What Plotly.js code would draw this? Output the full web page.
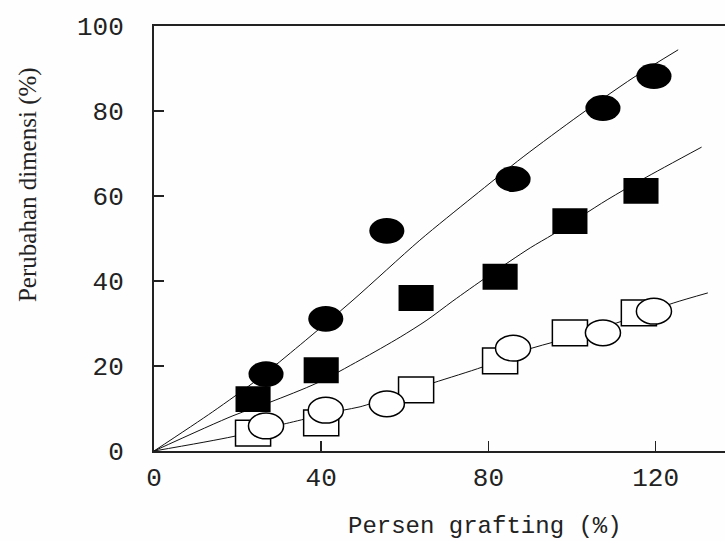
<!DOCTYPE html>
<html>
<head>
<meta charset="utf-8">
<script src="https://cdn.plot.ly/plotly-3.0.1.min.js"></script>
<style>html,body{margin:0;padding:0;background:#fff;}#chart{width:725px;height:541px;}</style>
</head>
<body>
<div id="chart"></div>
<script>
// Data
var filledCircleX = [26.8, 41.1, 55.7, 85.9, 107.4, 119.6];
var filledCircleY = [18.1, 31.1, 51.8, 64.0, 80.7, 88.2];
var filledSquareX = [23.7, 40.0, 62.7, 82.8, 99.5, 116.5];
var filledSquareY = [12.2, 19.0, 36.0, 41.0, 54.1, 61.2];
var openSquareX = [23.7, 40.0, 62.7, 82.8, 99.5, 116.0];
var openSquareY = [4.2, 6.6, 14.4, 21.2, 27.8, 32.5];
var openCircleX = [26.8, 41.1, 55.7, 85.9, 107.4, 119.6];
var openCircleY = [5.9, 9.6, 11.1, 24.2, 27.8, 32.9];

var fit1X = [0, 14, 25, 35, 47.6, 63.6, 76.3, 88.3, 101.9, 114.6, 125.4];
var fit1Y = [0, 9.2, 17, 25, 35.5, 49.6, 59.8, 69.2, 79.1, 87.8, 94.4];
var fit2X = [0, 18.9, 27.8, 39, 49.3, 58.9, 65.3, 71.5, 79.7, 90, 95.5, 108.4, 117, 131];
var fit2Y = [0, 8.3, 11.5, 16, 21.4, 26.8, 30.8, 35.3, 41, 47.8, 51, 59.1, 64, 71.5];
var fit3X = [0, 18.9, 30.9, 45.2, 49.3, 66.7, 78.7, 90.4, 95.5, 111.5, 124.2, 132.5];
var fit3Y = [0, 3.4, 6.3, 9.6, 10.4, 16, 19.8, 24.2, 25.6, 30.4, 34.8, 37.2];

var xTicks = [0, 40, 80, 120];
var yTicks = [0, 20, 40, 60, 80, 100];
var xTitle = 'Persen grafting (%)';
var yTitle = 'Perubahan dimensi (%)';

var lineStyle = {color: '#111', width: 1, shape: 'spline', smoothing: 0.8};
function fit(x, y) {
  return {x: x, y: y, type: 'scatter', mode: 'lines', line: lineStyle, hoverinfo: 'skip', showlegend: false};
}
function pts(x, y, symbol, filled) {
  return {
    x: x, y: y, type: 'scatter', mode: 'markers', showlegend: false, cliponaxis: false,
    marker: {symbol: symbol, size: 30, color: filled ? '#000' : '#fff',
             line: {color: '#000', width: filled ? 0 : 1.5}}
  };
}

var data = [
  fit(fit1X, fit1Y), fit(fit2X, fit2Y), fit(fit3X, fit3Y),
  pts(openSquareX, openSquareY, 'square', false),
  pts(openCircleX, openCircleY, 'circle', false),
  pts(filledSquareX, filledSquareY, 'square', true),
  pts(filledCircleX, filledCircleY, 'circle', true)
];

var tickFont = {family: 'Liberation Mono, Courier New, monospace', size: 26, color: '#222'};

var layout = {
  width: 725, height: 541,
  margin: {l: 154, r: 0, t: 26, b: 90},
  paper_bgcolor: '#fefefe', plot_bgcolor: '#fefefe',
  showlegend: false,
  xaxis: {
    range: [0, 136.6], tickvals: xTicks, ticktext: xTicks.map(String),
    ticks: 'inside', ticklen: 10, tickwidth: 1.5, tickcolor: '#222',
    showline: true, linecolor: '#222', linewidth: 2, mirror: true,
    showgrid: false, zeroline: false, tickfont: tickFont, ticklabelstandoff: 2
  },
  yaxis: {
    range: [0, 100], tickvals: yTicks, ticktext: yTicks.map(String),
    ticks: 'inside', ticklen: 10, tickwidth: 1.5, tickcolor: '#222',
    showline: true, linecolor: '#222', linewidth: 2, mirror: false,
    showgrid: false, zeroline: false, tickfont: tickFont, ticklabelstandoff: 23
  },
  annotations: [
    {text: xTitle, xref: 'paper', yref: 'paper', x: 0.5797, y: -0.1788,
     xanchor: 'center', yanchor: 'middle', showarrow: false,
     font: {family: 'Liberation Mono, Courier New, monospace', size: 24, color: '#222'}},
    {text: yTitle, xref: 'paper', yref: 'paper', x: -0.2205, y: 0.626, textangle: -90,
     xanchor: 'center', yanchor: 'middle', showarrow: false,
     font: {family: 'Liberation Serif, Times New Roman, serif', size: 25, color: '#222'}}
  ]
};

Plotly.newPlot('chart', data, layout, {staticPlot: true}).then(function () {
  // markers in the reference are wider than tall
  document.querySelectorAll('path.point').forEach(function (p) {
    var t = p.getAttribute('transform') || '';
    p.setAttribute('transform', t + ' scale(1.17,0.86)');
    p.style.vectorEffect = 'non-scaling-stroke';
  });
});
</script>
</body>
</html>
